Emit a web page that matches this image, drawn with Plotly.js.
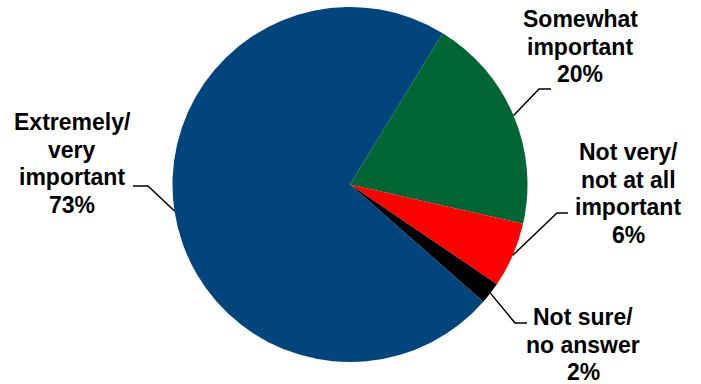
<!DOCTYPE html>
<html>
<head>
<meta charset="utf-8">
<script src="https://cdn.plot.ly/plotly-3.0.1.min.js"></script>
<style>html,body{margin:0;padding:0;background:#fff;}#chart{width:701px;height:384px;}</style>
</head>
<body>
<div id="chart"></div>
<script>
// Data
var categories = ["Somewhat important", "Not very/ not at all important", "Not sure/ no answer", "Extremely/ very important"];
var values = [20, 6, 2, 73];
var labelLines = [
  ["Somewhat", "important", "20%"],
  ["Not very/", "not at all", "important", "6%"],
  ["Not sure/", "no answer", "2%"],
  ["Extremely/", "very", "important", "73%"]
];
var colors = ["#006633", "#FF0000", "#000000", "#00457C"];

// Layout (pixels)
var W = 701, H = 384;
var cx = 350, cy = 184.5, R = 177.5;
var rotation = 31.5;
// label block: center x, first line center y; leader: elbow & end points
var labelPos = [
  {x: 580, y: 19},
  {x: 628, y: 152},
  {x: 583, y: 317},
  {x: 72, y: 122}
];
var leaders = [
  {elbow: [539, 89], end: [551, 89]},
  {elbow: [557, 213], end: [568, 213]},
  {elbow: [515, 323], end: [527, 323]},
  {elbow: [148, 186], end: [133, 186]}
];
var lineStep = 27.5;

function px(x) { return x / W; }
function py(y) { return 1 - y / H; }

var total = values.reduce(function (a, b) { return a + b; }, 0);
var annotations = [];
var shapes = [];
var ang = rotation;
values.forEach(function (v, i) {
  var span = v / total * 360;
  var mid = (ang + span / 2) * Math.PI / 180;
  ang += span;
  var ex = cx + R * Math.sin(mid), ey = cy - R * Math.cos(mid);
  var L = leaders[i];
  shapes.push({
    type: "path", xref: "paper", yref: "paper",
    path: "M " + px(ex) + "," + py(ey) + " L " + px(L.elbow[0]) + "," + py(L.elbow[1]) + " L " + px(L.end[0]) + "," + py(L.end[1]),
    line: {color: "#000", width: 1.5}
  });
  labelLines[i].forEach(function (t, k) {
    annotations.push({
      text: "<b>" + t + "</b>", showarrow: false,
      xref: "paper", yref: "paper",
      x: px(labelPos[i].x), y: py(labelPos[i].y + k * lineStep),
      xanchor: "center", yanchor: "middle",
      font: {family: "Liberation Sans, Arial, sans-serif", size: 23, color: "#000"}
    });
  });
});

var trace = {
  type: "pie",
  labels: categories,
  values: values,
  sort: false,
  direction: "clockwise",
  rotation: rotation,
  textinfo: "none",
  hoverinfo: "label+percent",
  marker: {colors: colors, line: {width: 0}},
  domain: {x: [px(cx - R), px(cx + R)], y: [py(cy + R), py(cy - R)]}
};

var layout = {
  width: W, height: H,
  margin: {l: 0, r: 0, t: 0, b: 0},
  showlegend: false,
  paper_bgcolor: "#fff",
  annotations: annotations,
  shapes: shapes
};

Plotly.newPlot("chart", [trace], layout, {displayModeBar: false, staticPlot: true});
</script>
</body>
</html>
